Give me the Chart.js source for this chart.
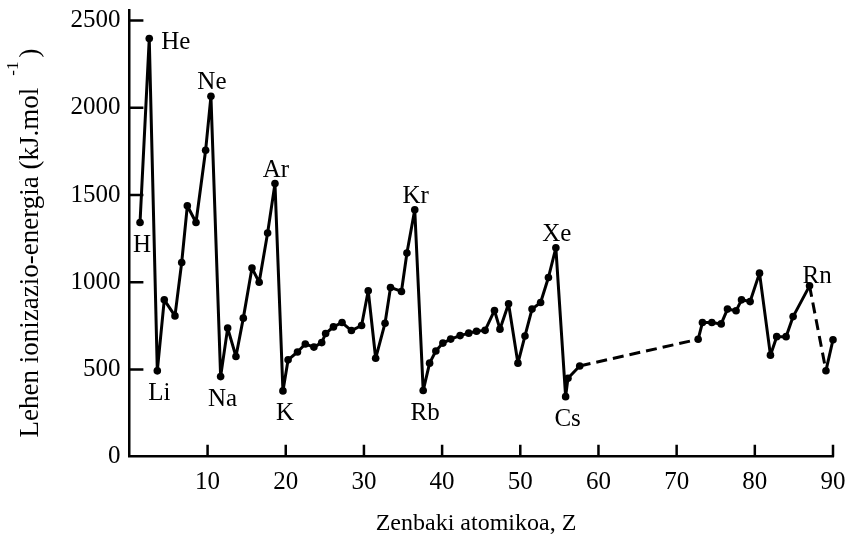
<!DOCTYPE html>
<html>
<head>
<meta charset="utf-8">
<script src="https://cdn.jsdelivr.net/npm/chart.js@4/dist/chart.umd.min.js"></script>
<style>
  html, body { margin: 0; padding: 0; background: #fff; }
  #wrap { width: 846px; height: 534px; }
</style>
</head>
<body>
<div id="wrap"><canvas id="chart" width="846" height="534"></canvas></div>
<script>
// First ionization energy against atomic number (positions along Z as plotted)
const symbols = [
  'H','He','Li','Be','B','C','N','O','F','Ne',
  'Na','Mg','Al','Si','P','S','Cl','Ar',
  'K','Ca','Sc','Ti','V','Cr','Mn','Fe','Co','Ni','Cu','Zn','Ga','Ge','As','Se','Br','Kr',
  'Rb','Sr','Y','Zr','Nb','Mo','Tc','Ru','Rh','Pd','Ag','Cd','In','Sn','Sb','Te','I','Xe',
  'Cs','Ba','La',
  'Hf','Ta','W','Re','Os','Ir','Pt','Au','Hg','Tl','Pb','Bi','Po','Rn',
  'Fr','Ra'
];
const atomicNumber = [
  1.36, 2.54, 3.57, 4.46, 5.83, 6.69, 7.41, 8.52, 9.75, 10.43,
  11.67, 12.57, 13.63, 14.57, 15.68, 16.6, 17.68, 18.62,
  19.64, 20.3, 21.5, 22.5, 23.6, 24.6, 25.1, 26.1, 27.2, 28.4, 29.7, 30.55, 31.5, 32.7, 33.4, 34.8, 35.5, 36.5,
  37.58, 38.4, 39.2, 40.1, 41.1, 42.3, 43.4, 44.4, 45.5, 46.7, 47.4, 48.5, 49.7, 50.6, 51.5, 52.6, 53.6, 54.55,
  55.8, 56.1, 57.6,
  72.75, 73.3, 74.5, 75.7, 76.5, 77.6, 78.3, 79.4, 80.6, 82.0, 82.8, 84.0, 84.9, 87.0,
  89.1, 90.0
];
const ionizationEnergy = [
  1342, 2396, 492, 899, 807, 1113, 1438, 1342, 1756, 2065,
  459, 737, 574, 794, 1081, 1000, 1282, 1565,
  377, 555, 600, 646, 628, 654, 706, 744, 769, 723, 752, 951, 564, 765, 970, 947, 1167, 1415,
  379, 536, 606, 651, 674, 694, 708, 719, 724, 838, 731, 876, 536, 692, 846, 884, 1027, 1197,
  344, 450, 520,
  673, 769, 769, 761, 846, 836, 899, 889, 1052, 582, 688, 688, 803, 979,
  493, 670
];

// Elements whose symbol is written next to their point, and where
const labelledElements = ['H', 'He', 'Li', 'Ne', 'Na', 'Ar', 'K', 'Kr', 'Rb', 'Xe', 'Cs', 'Rn'];
const labelPlacement   = ['below', 'right', 'below', 'above', 'below', 'above', 'below', 'above', 'below', 'above', 'below', 'aboveRight'];

// Segments leaving these elements are drawn dashed (gaps in the series)
const dashedAfter = ['La', 'Rn'];

const xTicks = [10, 20, 30, 40, 50, 60, 70, 80, 90];
const yTicks = [0, 500, 1000, 1500, 2000, 2500];

const xTitle = 'Zenbaki atomikoa, Z';
const yTitleMain = 'Lehen ionizazio-energia (kJ.mol';
const yTitleSup = '-1';
const yTitleClose = ')';

const serif = '"Liberation Serif", "Times New Roman", serif';

// Tick marks pointing into the plot area
const inwardTicks = {
  id: 'inwardTicks',
  afterDatasetsDraw(chart) {
    const { ctx, chartArea: { left, bottom }, scales: { x, y } } = chart;
    ctx.save();
    ctx.strokeStyle = '#000';
    ctx.lineWidth = 2.5;
    ctx.beginPath();
    yTicks.forEach(v => {
      if (v === 0) return;
      const py = y.getPixelForValue(v);
      ctx.moveTo(left, py);
      ctx.lineTo(left + 14, py);
    });
    xTicks.forEach(v => {
      const px = x.getPixelForValue(v);
      ctx.moveTo(px, bottom);
      ctx.lineTo(px, bottom - 12);
    });
    ctx.stroke();
    ctx.restore();
  }
};

// Element symbols beside the marked points
const elementLabels = {
  id: 'elementLabels',
  afterDatasetsDraw(chart) {
    const { ctx } = chart;
    const meta = chart.getDatasetMeta(0);
    ctx.save();
    ctx.fillStyle = '#000';
    ctx.font = '25px ' + serif;
    ctx.textBaseline = 'alphabetic';
    labelledElements.forEach((sym, k) => {
      const pt = meta.data[symbols.indexOf(sym)];
      const px = pt.x, py = pt.y;
      switch (labelPlacement[k]) {
        case 'above':
          ctx.textAlign = 'center';
          ctx.fillText(sym, px + 1, py - 7);
          break;
        case 'below':
          ctx.textAlign = 'center';
          ctx.fillText(sym, px + 2, py + 29);
          break;
        case 'right':
          ctx.textAlign = 'left';
          ctx.fillText(sym, px + 12, py + 10);
          break;
        case 'aboveRight':
          ctx.textAlign = 'left';
          ctx.fillText(sym, px - 7, py - 3);
          break;
      }
    });
    ctx.restore();
  }
};

// Axis titles (the y title carries a superscript exponent)
const axisTitles = {
  id: 'axisTitles',
  afterDraw(chart) {
    const { ctx } = chart;
    ctx.save();
    ctx.fillStyle = '#000';
    ctx.textBaseline = 'alphabetic';

    ctx.font = '24px ' + serif;
    ctx.textAlign = 'center';
    ctx.fillText(xTitle, 476, 530);

    const mainFont = '27px ' + serif;
    const supFont = '17px ' + serif;
    ctx.font = mainFont;
    const wMain = ctx.measureText(yTitleMain).width;
    const wClose = ctx.measureText(yTitleClose).width;
    ctx.font = supFont;
    const wSup = ctx.measureText(yTitleSup).width;
    const gap1 = 12, gap2 = 4;
    const total = wMain + gap1 + wSup + gap2 + wClose;
    const centerY = 243;
    ctx.translate(38, centerY + total / 2);
    ctx.rotate(-Math.PI / 2);
    ctx.textAlign = 'left';
    ctx.font = mainFont;
    ctx.fillText(yTitleMain, 0, 0);
    ctx.font = supFont;
    ctx.fillText(yTitleSup, wMain + gap1, -20);
    ctx.font = mainFont;
    ctx.fillText(yTitleClose, wMain + gap1 + wSup + gap2, 0);
    ctx.restore();
  }
};

const noScalePadding = s => {
  s.paddingTop = 0; s.paddingBottom = 0; s.paddingLeft = 0; s.paddingRight = 0;
};

const points = atomicNumber.map((z, i) => ({ x: z, y: ionizationEnergy[i] }));

new Chart(document.getElementById('chart'), {
  type: 'scatter',
  data: {
    datasets: [{
      data: points,
      showLine: true,
      borderColor: '#000',
      borderWidth: 3,
      borderJoinStyle: 'round',
      pointRadius: 3.8,
      pointBackgroundColor: '#000',
      pointBorderColor: '#000',
      pointBorderWidth: 0,
      clip: false,
      segment: {
        borderDash: c => dashedAfter.includes(symbols[c.p0DataIndex]) ? [11, 6] : undefined
      }
    }]
  },
  options: {
    responsive: false,
    animation: false,
    events: [],
    layout: { padding: { left: 0, top: 10, right: 13, bottom: 0 } },
    plugins: { legend: { display: false }, tooltip: { enabled: false } },
    scales: {
      x: {
        type: 'linear',
        min: 0,
        max: 90,
        afterBuildTicks: s => { s.ticks = xTicks.map(v => ({ value: v })); },
        afterFit: s => { s.height = 77.3; noScalePadding(s); },
        grid: { display: true, drawOnChartArea: false, drawTicks: false, color: 'rgba(0,0,0,0)' },
        border: { display: true, color: '#000', width: 2.5 },
        ticks: { color: '#000', font: { family: serif, size: 25 }, padding: 11, maxRotation: 0, autoSkip: false,
                 callback: v => String(v) }
      },
      y: {
        type: 'linear',
        min: 0,
        max: 2560,
        afterBuildTicks: s => { s.ticks = yTicks.map(v => ({ value: v })); },
        afterFit: s => { s.width = 129.4; noScalePadding(s); },
        grid: { display: true, drawOnChartArea: false, drawTicks: false, color: 'rgba(0,0,0,0)' },
        border: { display: true, color: '#000', width: 2.5 },
        ticks: { color: '#000', font: { family: serif, size: 25 }, padding: 9, autoSkip: false,
                 callback: v => String(v) }
      }
    }
  },
  plugins: [inwardTicks, elementLabels, axisTitles]
});
</script>
</body>
</html>
